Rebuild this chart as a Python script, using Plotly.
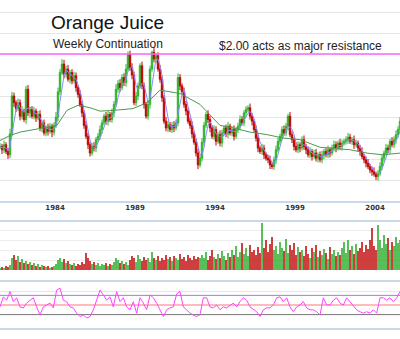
import numpy as np
import pandas as pd
import plotly.graph_objects as go

# ---- time span (decimal years) ----
start_year = 1980.56
end_year = 2005.56

# ---- weekly continuation closes (sampled), $/lb ----
close = [0.90, 0.86, 0.92, 0.84, 0.80, 1.05, 1.50, 1.42, 1.35, 1.42,
         1.26, 1.32, 1.22, 1.58, 1.30, 1.34, 1.26, 1.32, 1.24, 1.28,
         1.12, 1.18, 1.06, 1.12, 1.08, 1.14, 1.07, 1.15, 1.25, 1.55,
         1.78, 1.88, 1.76, 1.82, 1.70, 1.78, 1.68, 1.74, 1.60, 1.52,
         1.40, 1.30, 1.15, 1.02, 0.92, 0.82, 0.90, 0.88, 0.98, 1.02,
         1.10, 1.18, 1.26, 1.20, 1.28, 1.22, 1.30, 1.40, 1.58, 1.65,
         1.60, 1.72, 1.66, 1.82, 2.00, 1.84, 1.75, 1.42, 1.50, 1.62,
         1.86, 1.62, 1.40, 1.26, 1.40, 1.82, 2.02, 1.94, 1.98, 1.82,
         1.70, 1.48, 1.20, 1.12, 1.16, 1.10, 1.15, 1.12, 1.18, 1.72,
         1.62, 1.55, 1.40, 1.32, 1.20, 1.15, 1.05, 0.95, 0.82, 0.68,
         0.76, 0.95, 1.15, 1.28, 1.22, 1.12, 1.02, 1.10, 0.96, 1.04,
         0.94, 1.06, 1.12, 1.05, 1.14, 1.06, 1.10, 1.02, 1.10, 1.14,
         1.22, 1.18, 1.30, 1.34, 1.36, 1.26, 1.20, 1.10, 1.00, 0.88,
         0.84, 0.88, 0.80, 0.76, 0.74, 0.68, 0.66, 0.74, 0.86, 0.96,
         1.02, 1.10, 1.06, 1.14, 1.26, 1.04, 0.98, 0.90, 0.86, 0.92,
         0.88, 0.98, 0.90, 0.86, 0.80, 0.84, 0.78, 0.82, 0.76, 0.80,
         0.74, 0.80, 0.84, 0.80, 0.86, 0.82, 0.88, 0.92, 0.88, 0.94,
         0.90, 0.94, 0.96, 0.98, 1.01, 0.96, 0.98, 0.92, 0.94, 0.88,
         0.84, 0.78, 0.74, 0.70, 0.66, 0.62, 0.60, 0.57, 0.54, 0.58,
         0.66, 0.76, 0.82, 0.88, 0.86, 0.96, 0.92, 0.98, 1.04, 1.10,
         1.20]

# ---- weekly range beyond the body (estimated band thickness) ----
upper_wick = [0.04, 0.03, 0.05, 0.03, 0.04, 0.06, 0.05, 0.04, 0.03, 0.05,
              0.04, 0.06, 0.03, 0.04, 0.05, 0.03, 0.04, 0.05, 0.03, 0.04,
              0.05, 0.03, 0.04, 0.03, 0.05, 0.04, 0.03, 0.04, 0.06, 0.05,
              0.04, 0.06, 0.05, 0.04, 0.05, 0.03, 0.04, 0.05, 0.04, 0.03,
              0.05, 0.04, 0.03, 0.05, 0.04, 0.03, 0.04, 0.05, 0.03, 0.04,
              0.05, 0.04, 0.03, 0.05, 0.04, 0.03, 0.05, 0.04, 0.06, 0.04,
              0.05, 0.04, 0.05, 0.06, 0.03, 0.04, 0.05, 0.04, 0.05, 0.04,
              0.03, 0.05, 0.04, 0.03, 0.05, 0.04, 0.02, 0.05, 0.03, 0.04,
              0.05, 0.04, 0.03, 0.05, 0.04, 0.03, 0.04, 0.05, 0.04, 0.05,
              0.04, 0.03, 0.05, 0.04, 0.03, 0.04, 0.05, 0.03, 0.04, 0.05,
              0.04, 0.05, 0.04, 0.03, 0.05, 0.04, 0.03, 0.05, 0.04, 0.03,
              0.05, 0.04, 0.03, 0.04, 0.05, 0.03, 0.04, 0.05, 0.03, 0.04,
              0.05, 0.04, 0.03, 0.04, 0.03, 0.05, 0.04, 0.03, 0.05, 0.04,
              0.03, 0.05, 0.04, 0.03, 0.04, 0.05, 0.03, 0.04, 0.05, 0.04,
              0.03, 0.04, 0.05, 0.04, 0.03, 0.05, 0.04, 0.03, 0.05, 0.04,
              0.03, 0.04, 0.05, 0.03, 0.04, 0.05, 0.03, 0.04, 0.05, 0.03,
              0.04, 0.05, 0.03, 0.04, 0.05, 0.03, 0.04, 0.05, 0.04, 0.03,
              0.05, 0.04, 0.03, 0.04, 0.05, 0.04, 0.03, 0.05, 0.04, 0.03,
              0.04, 0.05, 0.03, 0.04, 0.05, 0.03, 0.04, 0.05, 0.03, 0.04,
              0.05, 0.04, 0.03, 0.05, 0.04, 0.03, 0.05, 0.04, 0.05, 0.04,
              0.05]
lower_wick = [0.03, 0.05, 0.04, 0.03, 0.05, 0.04, 0.03, 0.05, 0.04, 0.03,
              0.05, 0.04, 0.03, 0.05, 0.04, 0.06, 0.03, 0.04, 0.05, 0.03,
              0.04, 0.05, 0.03, 0.04, 0.05, 0.03, 0.06, 0.04, 0.03, 0.05,
              0.04, 0.03, 0.05, 0.04, 0.03, 0.05, 0.04, 0.03, 0.05, 0.04,
              0.03, 0.05, 0.04, 0.03, 0.05, 0.04, 0.03, 0.04, 0.05, 0.03,
              0.04, 0.05, 0.03, 0.04, 0.05, 0.03, 0.04, 0.05, 0.03, 0.04,
              0.05, 0.03, 0.04, 0.05, 0.03, 0.04, 0.05, 0.03, 0.04, 0.05,
              0.03, 0.04, 0.05, 0.03, 0.04, 0.05, 0.03, 0.04, 0.05, 0.03,
              0.04, 0.05, 0.03, 0.04, 0.05, 0.03, 0.04, 0.05, 0.03, 0.04,
              0.05, 0.03, 0.04, 0.05, 0.03, 0.04, 0.05, 0.03, 0.04, 0.05,
              0.03, 0.04, 0.05, 0.03, 0.04, 0.05, 0.03, 0.04, 0.05, 0.03,
              0.04, 0.05, 0.03, 0.04, 0.05, 0.03, 0.04, 0.05, 0.03, 0.04,
              0.05, 0.03, 0.04, 0.05, 0.03, 0.04, 0.05, 0.03, 0.04, 0.05,
              0.03, 0.04, 0.05, 0.03, 0.04, 0.05, 0.03, 0.04, 0.05, 0.03,
              0.04, 0.05, 0.03, 0.04, 0.05, 0.03, 0.04, 0.05, 0.03, 0.04,
              0.05, 0.03, 0.04, 0.05, 0.03, 0.04, 0.05, 0.03, 0.04, 0.05,
              0.03, 0.04, 0.05, 0.03, 0.04, 0.05, 0.03, 0.04, 0.05, 0.03,
              0.04, 0.05, 0.03, 0.04, 0.05, 0.03, 0.04, 0.05, 0.03, 0.04,
              0.05, 0.03, 0.04, 0.05, 0.03, 0.04, 0.05, 0.03, 0.04, 0.05,
              0.03, 0.04, 0.05, 0.03, 0.04, 0.05, 0.03, 0.04, 0.05, 0.03,
              0.04]

# ---- volume (thousand contracts, sampled) ----
volume = [2, 3, 2, 4, 3, 5,
          12, 15, 10, 14, 8, 11, 7,
          9, 6, 8, 5, 7, 4, 6, 3, 5, 4,
          3, 4, 2, 3, 4,
          6, 10, 12, 8, 11, 7, 9, 6,
          5, 7, 4, 6, 5, 8, 6,
          17, 12, 9,
          6, 8, 5, 7, 4, 6, 5, 7, 4, 6, 5,
          8, 12, 10, 7, 9, 6, 8, 5,
          10, 14, 12, 8, 15, 11, 9, 13, 10, 12, 8,
          18, 12, 10, 14, 9,
          12, 10, 15, 11, 13, 9, 14, 12, 10, 16, 11, 13, 9, 15, 12, 10, 14, 11, 13, 12,
          15, 12, 18, 10, 14, 20, 13, 11, 16, 12, 19, 14, 10, 17, 13,
          20, 15, 24, 13, 18, 27, 16, 22, 14, 25, 18, 20, 15, 23, 17,
          47,
          22, 30, 18, 26, 33, 20, 24, 16, 28, 22, 19, 31, 17, 25, 20, 27, 15, 23, 18,
          20, 14, 24, 16, 12, 22, 18, 25, 13, 19, 15, 21, 17, 11, 23, 16, 20, 14, 18, 15,
          22, 28, 17, 30, 20, 24, 16, 26, 19, 22, 28, 18, 25, 21, 30,
          42,
          24, 20,
          45,
          30, 22, 35, 26, 32, 20, 28, 24, 33, 27, 30]

# ---- RSI oscillator (sampled) ----
rsi = [46, 67, 60, 78, 57, 65, 46, 44, 54, 60, 65, 46, 29, 46, 50, 54, 44, 81, 85, 60,
       57, 46, 44, 33, 26, 29, 23, 26, 40, 60, 81, 71, 60, 67, 46, 78, 57, 65, 46, 40,
       57, 33, 65, 54, 40, 71, 65, 54, 40, 26, 40, 44, 46, 73, 78, 46, 40, 33, 29, 26,
       30,
       65, 65, 46, 44, 50, 40, 46, 44, 50, 54, 46, 57, 65, 60, 46, 40, 36, 26, 40, 44,
       44, 50, 65, 67, 57, 65, 46, 36, 46, 50, 57, 44, 40, 40, 36, 29, 65, 50, 50, 60,
       65, 54, 50, 65, 57, 50, 40, 36, 33, 36, 33, 40, 33, 65, 65, 60, 65, 57, 65, 78]

# ---- long moving average ----
ma_long_years = [1980.56, 1981.19, 1981.81, 1982.62, 1983.37, 1984.12, 1984.75, 1985.44,
                 1986.19, 1986.81, 1987.75, 1988.87, 1989.75, 1990.56, 1991.81, 1993.06,
                 1994.31, 1995.12, 1996.19, 1997.25, 1998.25, 1999.31, 2000.56, 2002.44,
                 2003.50, 2004.50, 2005.56]
ma_long = [0.97, 1.03, 1.07, 1.10, 1.13, 1.15, 1.33, 1.39, 1.36, 1.32, 1.33, 1.35, 1.42,
           1.57, 1.53, 1.40, 1.15, 1.12, 1.07, 1.04, 1.00, 0.98, 0.89, 0.86, 0.82, 0.80, 0.82]

tick_years = [1984, 1989, 1994, 1999, 2004]
tick_labels = ["1984", "1989", "1994", "1999", "2004"]
resistance = 2.00

# ---- derived ----
n = len(close)
xc = np.linspace(start_year, end_year, n)
opens = [close[0]] + close[:-1]
uw = [upper_wick[min(i, len(upper_wick) - 1)] for i in range(n)]
lw = [lower_wick[min(i, len(lower_wick) - 1)] for i in range(n)]
highs = [max(o, c) + u for o, c, u in zip(opens, close, uw)]
lows = [min(o, c) - l for o, c, l in zip(opens, close, lw)]
ma_short = pd.Series(close).rolling(4, min_periods=1).mean().tolist()

xv = np.linspace(start_year, end_year, len(volume))
vcol = []
for i in range(len(volume)):
    j = min(i, n - 1)
    vcol.append("#22aa22" if close[j] >= opens[j] else "#c00000")

xr = np.linspace(start_year, end_year, len(rsi))

W, H = 400, 339


def py(p):
    return 1 - p / H


fig = go.Figure()
fig.add_trace(go.Candlestick(
    x=xc, open=opens, high=highs, low=lows, close=close,
    increasing=dict(line=dict(color="#2cb52c", width=1), fillcolor="#2cb52c"),
    decreasing=dict(line=dict(color="#c00000", width=1), fillcolor="#c00000"),
    whiskerwidth=0, xaxis="x", yaxis="y", hoverinfo="skip"))
fig.add_trace(go.Scatter(x=xc, y=ma_short, mode="lines",
                         line=dict(color="#8a8aff", width=1), xaxis="x", yaxis="y"))
fig.add_trace(go.Scatter(x=ma_long_years, y=ma_long, mode="lines",
                         line=dict(color="#4f9a4f", width=1), xaxis="x", yaxis="y"))
fig.add_trace(go.Bar(x=xv, y=volume, marker=dict(color=vcol, line=dict(width=0)),
                     opacity=0.75, xaxis="x", yaxis="y2"))
fig.add_trace(go.Scatter(x=xr, y=rsi, mode="lines",
                         line=dict(color="#ff44ff", width=1), xaxis="x", yaxis="y3"))

shapes = []
# resistance line
shapes.append(dict(type="line", xref="paper", yref="y", x0=0, x1=1, y0=resistance, y1=resistance,
                   line=dict(color="#ff66ff", width=1.5), layer="above"))
# panel border lines
for p in [202, 221, 281, 329]:
    shapes.append(dict(type="line", xref="paper", yref="paper", x0=0, x1=1, y0=py(p), y1=py(p),
                       line=dict(color="#b9cde3", width=1.5), layer="below"))
# RSI reference lines
for v, c in [(78, "#e4e4e4"), (70, "#9b7bff"), (50, "#ff7777"), (30, "#777777")]:
    shapes.append(dict(type="line", xref="paper", yref="y3", x0=0, x1=1, y0=v, y1=v,
                       line=dict(color=c, width=1), layer="below"))

annotations = [
    dict(text="Orange Juice", x=107 / W, y=py(23), xref="paper", yref="paper",
         showarrow=False, font=dict(family="Liberation Sans", size=19, color="#111"),
         xanchor="center", yanchor="middle"),
    dict(text="Weekly Continuation", x=108 / W, y=py(44), xref="paper", yref="paper",
         showarrow=False, font=dict(family="Liberation Sans", size=12, color="#222"),
         xanchor="center", yanchor="middle"),
    dict(text="$2.00 acts as major resistance", x=300 / W, y=py(46), xref="paper", yref="paper",
         showarrow=False, font=dict(family="Liberation Sans", size=12, color="#222"),
         xanchor="center", yanchor="middle"),
]

fig.update_layout(
    width=W, height=H, margin=dict(l=0, r=0, t=0, b=0),
    paper_bgcolor="white", plot_bgcolor="white", showlegend=False,
    bargap=0.3, boxgap=0, shapes=shapes, annotations=annotations,
    xaxis=dict(range=[start_year, end_year], domain=[0, 1], anchor="y",
               tickvals=tick_years, ticktext=tick_labels,
               tickfont=dict(family="DejaVu Sans", size=7, color="#333", weight="bold"),
               showgrid=False, zeroline=False, showline=False, ticks="",
               rangeslider=dict(visible=False), fixedrange=True),
    yaxis=dict(domain=[py(202), 1], range=[2.0 - 148 / 84, 2.0 + 54 / 84],
               tick0=0, dtick=0.25, gridcolor="#e6e6e6", showticklabels=False,
               zeroline=False, showline=False),
    yaxis2=dict(domain=[py(270), py(221)], range=[0, 49], anchor="x",
                tick0=0, dtick=10, gridcolor="#ececec", showticklabels=False,
                zeroline=False, showline=False),
    yaxis3=dict(domain=[py(329), py(281)], range=[0, 100], anchor="x",
                showgrid=False, showticklabels=False, zeroline=False, showline=False),
)

fig.write_html("out.html")
